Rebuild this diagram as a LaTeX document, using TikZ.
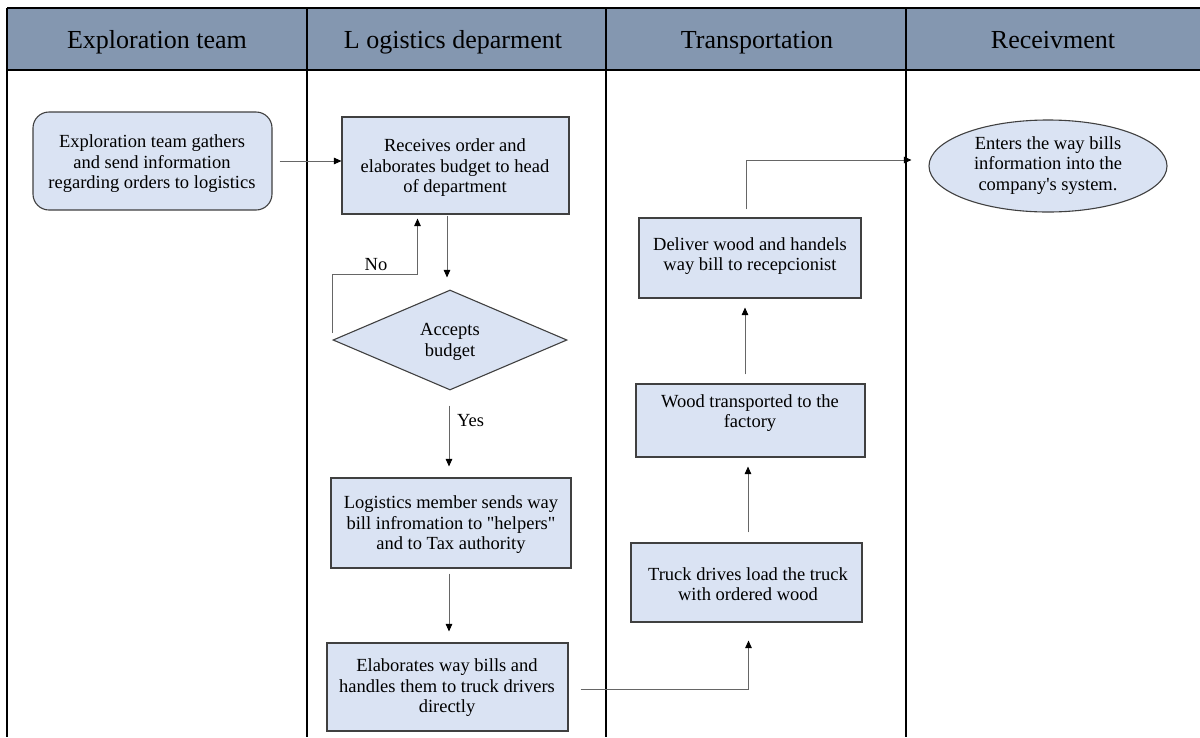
\documentclass[tikz,border=0pt]{standalone}
\usepackage{fontspec}
\setmainfont{LiberationSerif-Regular.ttf}
\usetikzlibrary{shapes.geometric,arrows.meta}

\definecolor{headfill}{HTML}{8497B0}
\definecolor{boxfill}{HTML}{DAE3F3}
\definecolor{boxline}{HTML}{404040}
\definecolor{flowline}{HTML}{666666}

\tikzset{
  lane/.style={line width=1.3pt, black},
  headtext/.style={font=\fontsize{26}{30}\selectfont, text=black, anchor=base, inner sep=0pt},
  boxtext/.style={font=\fontsize{18.5}{20.5}\selectfont, align=center, text=black, inner sep=0pt},
  procbox/.style={draw=boxline, fill=boxfill, line width=1.1pt, inner sep=0pt},
  decision/.style={procbox, diamond},
  terminal/.style={procbox, ellipse},
  arr/.style={draw=flowline, line width=0.9pt, -{Triangle[length=7.5pt,width=6.5pt,color=black]}},
  lbl/.style={font=\fontsize{18.5}{20}\selectfont, text=black, inner sep=0pt}
}

\begin{document}
\begin{tikzpicture}[x=1pt,y=-1pt]
\useasboundingbox (0,0) rectangle (1200,737);

% swimlane header band
\fill[headfill] (7,8) rectangle (1200,70);
\draw[lane] (7,8) -- (1200,8);
\draw[line width=2.4pt] (7,70) -- (1200,70);
\draw[lane] (7,8) -- (7,737);
\foreach \xx in {307,606,906} \draw[lane] (\xx,8) -- (\xx,737);

\node[headtext] (h1) at (157,48) {Exploration team};
\node[headtext] (h2) at (453,48) {L ogistics deparment};
\node[headtext] (h3) at (757,48) {Transportation};
\node[headtext] (h4) at (1053,48) {Receivment};

% process shapes
\node[procbox, rounded corners=16pt, minimum width=239pt, minimum height=98pt] (explo) at (152.5,161) {};
\node[procbox, minimum width=227pt, minimum height=97pt] (recv) at (455.5,165.5) {};
\node[decision, minimum width=234pt, minimum height=100pt, aspect=2.34] (dia) at (450,340) {};
\node[procbox, minimum width=240pt, minimum height=90pt] (member) at (451,523) {};
\node[procbox, minimum width=241pt, minimum height=88pt] (elab) at (447.5,687) {};
\node[procbox, minimum width=231pt, minimum height=79pt] (truck) at (746.5,582.5) {};
\node[procbox, minimum width=229pt, minimum height=73pt] (wood) at (750.5,420.5) {};
\node[procbox, minimum width=222pt, minimum height=80pt] (deliver) at (750,258) {};
\node[terminal, minimum width=238pt, minimum height=92pt] (ell) at (1048,166) {};

% texts
\node[boxtext] (texplo) at (152,164) {Exploration team gathers\\and send information\\regarding orders to logistics};
\node[boxtext] (trecv) at (455,168) {Receives order and\\elaborates budget to head\\of department};
\node[boxtext] (tdia) at (450,342) {Accepts\\budget};
\node[boxtext] (tmember) at (451,525) {Logistics member sends way\\bill infromation to \textquotedbl helpers\textquotedbl\\and to Tax authority};
\node[boxtext] (telab) at (447,688) {Elaborates way bills and\\handles them to truck drivers\\directly};
\node[boxtext] (ttruck) at (748,584) {Truck drives load the truck\\with ordered wood};
\node[boxtext] (twood) at (750,413) {Wood transported to the\\factory};
\node[boxtext] (tdeliver) at (750,256) {Deliver wood and handels\\way bill to recepcionist};
\node[boxtext] (tell) at (1048,165.5) {Enters the way bills\\information into the\\company\textquotesingle s system.};

% connectors
\draw[arr] ([xshift=7pt]explo.east) -- (recv.west |- explo.east);
\draw[arr] ([xshift=-8.5pt,yshift=-1pt]recv.south) -- ([xshift=-3pt,yshift=12pt]dia.north);
\draw[arr] ([yshift=7pt]dia.west) -- ++(0,-59) coordinate (nocorner)
  -| ([xshift=-38pt,yshift=-4pt]recv.south);
\node[lbl, anchor=south] (no) at (376,271) {No};
\draw[arr] ([xshift=-1pt,yshift=-15pt]dia.south) -- ([xshift=-2pt,yshift=11pt]member.north);
\node[lbl, anchor=west] (yes) at (457,421) {Yes};
\draw[arr] ([xshift=-2pt,yshift=-5pt]member.south) -- ([xshift=1.5pt,yshift=11pt]elab.north);
\draw[arr] ([xshift=12pt,yshift=-2pt]elab.east) -| ([xshift=2pt,yshift=-18pt]truck.south);
\draw[arr] ([xshift=1.5pt,yshift=10pt]truck.north) -- ([xshift=-2.5pt,yshift=-9pt]wood.south);
\draw[arr] ([xshift=-5.5pt,yshift=9pt]wood.north) -- ([xshift=-5pt,yshift=-9pt]deliver.south);
\draw[arr] ([xshift=-4pt,yshift=8pt]deliver.north) |- ([xshift=-17pt,yshift=6pt]ell.west);
\end{tikzpicture}
\end{document}
